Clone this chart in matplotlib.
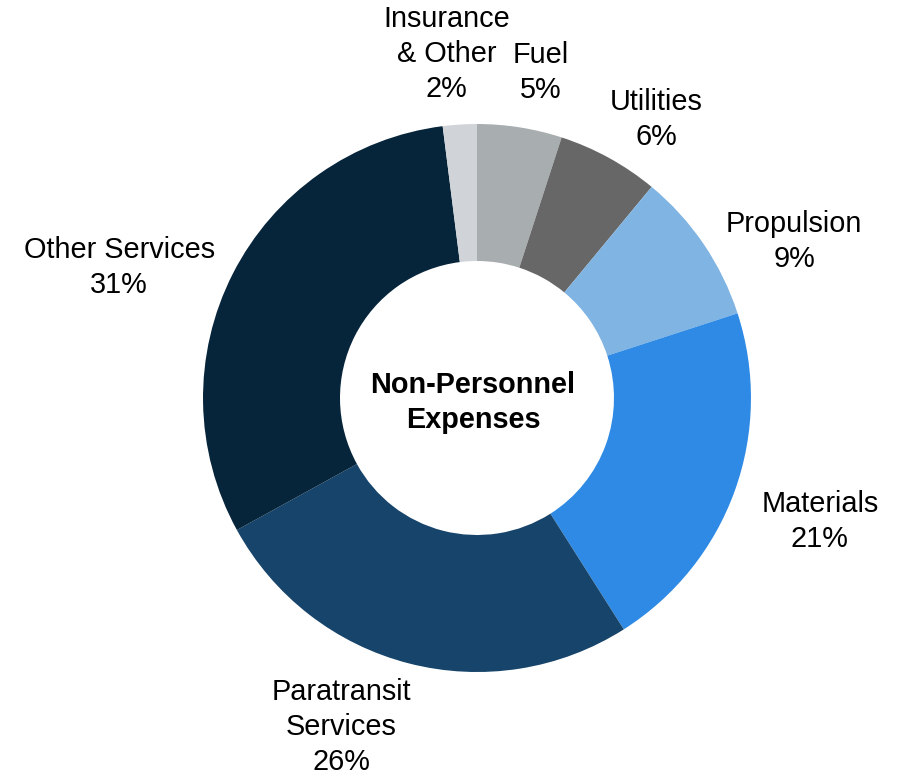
import numpy as np
import matplotlib
matplotlib.use("Agg")
import matplotlib.pyplot as plt

plt.rcParams['font.family'] = ['Liberation Sans', 'DejaVu Sans']

# data, clockwise from 12 o'clock
labels = ['Fuel', 'Utilities', 'Propulsion', 'Materials',
          'Paratransit\nServices', 'Other Services', 'Insurance\n& Other']
shares = [5, 6, 9, 21, 26, 31, 2]
colors = ['#A8ADB0', '#666766', '#80B4E2', '#2E8AE4',
          '#17446A', '#06243A', '#D0D4D8']

# label placement (radius, angle nudge in degrees)
label_r = [1.21, 1.21, 1.29, 1.33, 1.30, 1.39, 1.26]
label_nudge = [-2, -4, -8, 0, -8, 7, 1.5]

fig = plt.figure(figsize=(8.97, 7.79), dpi=100)
ax = fig.add_axes([0, 0, 1, 1])

wedges, _ = ax.pie(shares, colors=colors, startangle=90, counterclock=False,
                   radius=1.0, wedgeprops=dict(width=0.5, edgecolor='none'))

for w, lab, val, r, nd in zip(wedges, labels, shares, label_r, label_nudge):
    ang = np.deg2rad((w.theta1 + w.theta2) / 2 + nd)
    ax.text(r * np.cos(ang), r * np.sin(ang), f'{lab}\n{val}%',
            ha='center', va='center', fontsize=20.8, linespacing=1.32)

ax.text(-0.015, -0.015, 'Non-Personnel\nExpenses', ha='center', va='center',
        fontsize=20.8, fontweight='bold', linespacing=1.32)

ax.set_aspect('auto')
ax.set_xlim(-1.741, 1.533)
ax.set_ylim(-1.3905, 1.4526)
ax.axis('off')

fig.savefig('out.png', dpi=100)
